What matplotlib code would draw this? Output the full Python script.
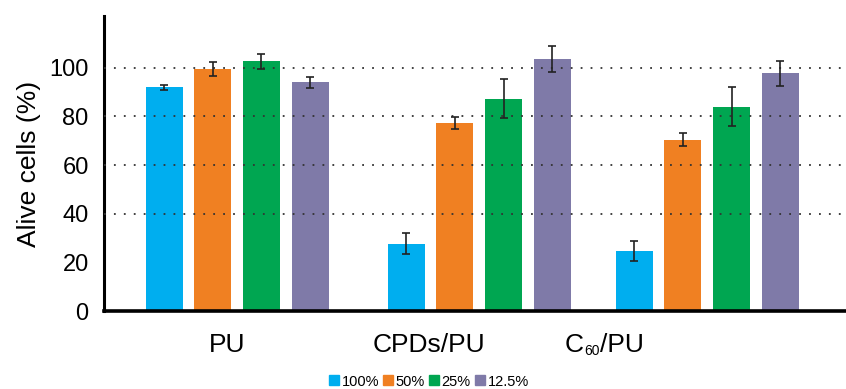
import numpy as np
import matplotlib
matplotlib.use("Agg")
import matplotlib.pyplot as plt
from matplotlib.lines import Line2D

plt.rcParams["font.family"] = ["Liberation Sans", "DejaVu Sans"]

# ---------------------------------------------------------------------------
# Data: cell viability (%) per sample and dilution
# ---------------------------------------------------------------------------
samples = ["PU", "CPDs/PU", "C60/PU"]
dilutions = ["100%", "50%", "25%", "12.5%"]
alive = {
    "100%":  [92.0, 27.7, 24.6],
    "50%":   [99.5, 77.3, 70.4],
    "25%":   [102.7, 87.2, 83.9],
    "12.5%": [94.1, 103.6, 97.7],
}
alive_err = {
    "100%":  [1.0, 4.3, 4.2],
    "50%":   [3.0, 2.6, 2.6],
    "25%":   [3.0, 8.0, 8.0],
    "12.5%": [2.3, 5.2, 5.2],
}
colors = ["#00AEEF", "#F08022", "#00A651", "#7F7AA8"]

# group layout (groups are not evenly spaced in the figure)
group_x = np.array([0.0, 1.03, 2.0])
label_x = [-0.043, 0.817]
c60_left = 1.395
stride = 0.207
width = 0.157

fig = plt.figure(figsize=(8.46, 3.89), dpi=100)
ax = fig.add_axes([0.1229, 0.2005, 0.8771, 0.7584])

for i, d in enumerate(dilutions):
    xs = group_x + (i - 1.5) * stride
    ax.bar(xs, alive[d], width=width, color=colors[i], zorder=2, label=d)
    ax.errorbar(xs, alive[d], yerr=alive_err[d], fmt="none", ecolor="#222222",
                elinewidth=1.2, capsize=3, capthick=1.2, zorder=4)

for g in [40, 60, 80, 100]:
    ax.axhline(g, color="#333333", lw=1.3, ls=(0, (1, 4.5)), zorder=3)

ax.set_xlim(-0.566, 2.59)
ax.set_ylim(0, 121.3)
ax.set_yticks([0, 20, 40, 60, 80, 100])
ax.set_xticks([])
ax.tick_params(axis="y", length=0, pad=11, labelsize=17)
ax.set_ylabel("Alive cells (%)", fontsize=19, labelpad=6)

# category labels drawn by hand so C60 can carry a small subscript
trans = ax.get_xaxis_transform()
label_y = -0.139
lab_fs = 19
for x, s in zip(label_x, samples[:2]):
    ax.text(x, label_y, s, transform=trans, ha="center", va="baseline", fontsize=lab_fs)
c_txt = ax.text(c60_left, label_y, samples[2][0], transform=trans, ha="left",
                va="baseline", fontsize=lab_fs)
sub_txt = ax.annotate(samples[2][1:3], xy=(1, 0), xycoords=c_txt, xytext=(0.3, 4),
                      textcoords="offset points", ha="left", va="center", fontsize=10)
ax.annotate(samples[2][3:], xy=(1, 0), xycoords=(sub_txt, c_txt), ha="left",
            va="bottom", fontsize=lab_fs)

for s in ["top", "right"]:
    ax.spines[s].set_visible(False)
ax.spines["left"].set_linewidth(2.2)
ax.spines["bottom"].set_linewidth(2.6)

handles = [Line2D([], [], marker="s", ls="none", color=c, markersize=7) for c in colors]
fig.legend(handles, dilutions, loc="lower center", bbox_to_anchor=(0.507, -0.025),
           ncol=4, frameon=False, fontsize=10.5, handlelength=0.7, handletextpad=0.15,
           columnspacing=0.3, borderpad=0.2)

fig.savefig("out.png", dpi=100)
